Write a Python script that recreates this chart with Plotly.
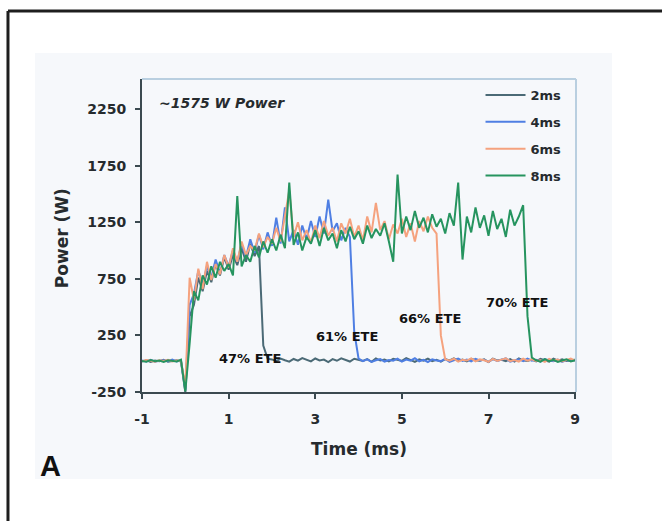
import plotly.graph_objects as go

# Measured forward power traces for four pulse durations, sampled every 0.1 ms
# starting at t = -1.0 ms.
power_2ms = [
    20, 30, 15, 28, 22, 35, 18, 26, 30, 20,
    -250, 420, 520, 760, 640, 820, 720, 880, 780, 940,
    830, 960, 870, 1020, 900, 1060, 950, 1040, 160, 45,
    38, 22, 45, 30, 18, 42, 27, 50, 33, 20,
    46, 29, 37, 15, 41, 26, 48, 31, 19, 44,
    35, 24, 40, 17, 47, 28, 36, 21, 43, 32,
    25, 49, 30, 16, 39, 27, 45, 22, 34, 18,
    41, 29, 47, 24, 36, 20, 43, 31, 26, 38,
    15, 44, 28, 35, 23, 40, 19, 46, 30, 25,
    37, 21, 42, 33, 18, 45, 27, 39, 24, 31,
    36,
]
power_4ms = [
    28, 20, 34, 18, 25, 30, 22, 36, 19, 27,
    -230, 520, 620, 820, 700, 860, 760, 920, 800, 960,
    860, 1000, 900, 1060, 940, 1100, 980, 1140, 1010, 1160,
    1040, 1290, 1060, 1380, 1080, 1180, 1050, 1220, 1100, 1260,
    1120, 1300, 1150, 1450, 1170, 1240, 1090, 1200, 1120, 280,
    45, 22, 38, 16, 30, 41, 19, 33, 26, 44,
    18, 36, 27, 48, 21, 34, 15, 39, 29, 23,
    42, 17, 31, 46, 25, 37, 20, 43, 28, 35,
    16, 40, 24, 33, 47, 19, 30, 38, 22, 45,
    27, 34, 18, 41, 29, 23, 37, 15, 32, 26,
    30,
]
power_6ms = [
    22, 32, 26, 18, 30, 24, 34, 20, 28, 25,
    -200, 760, 560, 840, 660, 900, 740, 880, 790, 960,
    850, 1020, 900, 1080, 960, 1040, 1000, 1150, 1030, 1120,
    1060, 1200, 1080, 1300, 1530, 1120, 1250, 1090, 1180, 1070,
    1220, 1110, 1260, 1130, 1200, 1080, 1240, 1150, 1280, 1120,
    1220, 1090, 1300, 1160, 1420, 1180, 1260, 1100, 1230, 1150,
    1280, 1120, 1240, 1080, 1260, 1170, 1300, 1200, 1150, 250,
    40, 26, 44, 19, 35, 28, 47, 21, 38, 30,
    17, 42, 25, 36, 48, 22, 33, 19, 45, 27,
    39, 24, 31, 16, 43, 29, 37, 20, 34, 46,
    28,
]
power_8ms = [
    25, 18, 32, 22, 28, 15, 30, 24, 20, 35,
    -245, 180, 640, 560, 780, 700, 860, 760, 900, 820,
    880, 780, 1480, 860, 960, 900, 1040, 940, 1080, 980,
    1100, 1000, 1140, 1020, 1600, 1050, 1160, 1000, 1120, 1060,
    1180, 1040, 1200, 1090, 1150, 1020, 1180, 1080, 1210, 1100,
    1170, 1060, 1220, 1110, 1190, 1130, 1240, 1080, 900, 1670,
    1150, 1300, 1180, 1350, 1200, 1290, 1160, 1320, 1210, 1280,
    1150, 1330, 1220, 1600, 920, 1300, 1160, 1380, 1200, 1310,
    1130, 1350, 1190, 1280, 1120, 1360, 1220, 1300, 1400, 420,
    55, 30, 18, 40, 22, 35, 15, 28, 38, 20,
    30,
]

series_names = ["2ms", "4ms", "6ms", "8ms"]
series_values = [power_2ms, power_4ms, power_6ms, power_8ms]
series_colors = ["#4b6a76", "#4f7fe3", "#f5a27e", "#26945f"]

ete_labels = ["47% ETE", "61% ETE", "66% ETE", "70% ETE"]
ete_x = [1.49, 3.73, 5.65, 7.66]
ete_y = [50, 236, 395, 545]

x_ticks = [-1, 1, 3, 5, 7, 9]
x_tick_text = ["-1", "1", "3", "5", "7", "9"]
y_ticks = [-250, 250, 750, 1250, 1750, 2250]
y_tick_text = ["-250", "250", "750", "1250", "1750", "2250"]

FONT = "DejaVu Sans"
INK = "#262b2e"

fig = go.Figure()
for name, vals, color in zip(series_names, series_values, series_colors):
    t = [round(-1.0 + 0.1 * i, 2) for i in range(len(vals))]
    fig.add_trace(go.Scatter(
        x=t, y=vals, mode="lines", name=name, legendgroup=name,
        line=dict(color=color, width=2),
    ))

annotations = [
    dict(text="<b><i>~1575 W Power</i></b>", x=-0.65, y=2303, xref="x", yref="y",
         xanchor="left", yanchor="middle", showarrow=False,
         font=dict(family=FONT, size=14, color=INK)),
    dict(text="<b>Time (ms)</b>", x=0.5, y=-0.182, xref="paper", yref="paper",
         xanchor="center", yanchor="middle", showarrow=False,
         font=dict(family=FONT, size=17, color=INK)),
    dict(text="<b>Power (W)</b>", x=-0.184, y=0.492, xref="paper", yref="paper",
         xanchor="center", yanchor="middle", showarrow=False, textangle=-90,
         font=dict(family=FONT, size=17, color=INK)),
    dict(text="<b>A</b>", x=-0.2097, y=-0.236, xref="paper", yref="paper",
         xanchor="center", yanchor="middle", showarrow=False,
         font=dict(family="Liberation Sans, Arial", size=29, color="#111111")),
]
for label, lx, ly in zip(ete_labels, ete_x, ete_y):
    annotations.append(dict(text="<b>" + label + "</b>", x=lx, y=ly, xref="x", yref="y",
                            xanchor="center", yanchor="middle", showarrow=False,
                            font=dict(family=FONT, size=13, color="#111111")))

shapes = [
    # light panel behind the chart
    dict(type="rect", xref="paper", yref="paper", x0=-0.2465, x1=1.083, y0=-0.278, y1=1.083,
         fillcolor="#f6f8fb", line=dict(width=0), layer="below"),
    # outer frame (top and left edges)
    dict(type="line", xref="paper", yref="paper", x0=-0.3088, x1=1.4, y0=1.2173, y1=1.2173,
         line=dict(color="#1e1e1e", width=3)),
    dict(type="line", xref="paper", yref="paper", x0=-0.3088, x1=-0.3088, y0=1.2173, y1=-0.6,
         line=dict(color="#1e1e1e", width=3)),
    # light blue top/right edges of the plot box
    dict(type="line", xref="paper", yref="paper", x0=0, x1=1, y0=1, y1=1,
         line=dict(color="#b9cfe0", width=2)),
    dict(type="line", xref="paper", yref="paper", x0=1, x1=1, y0=0, y1=1,
         line=dict(color="#b9cfe0", width=2)),
]

fig.update_layout(
    width=662, height=521,
    margin=dict(l=142, r=86, t=79, b=129),
    paper_bgcolor="white", plot_bgcolor="white",
    font=dict(family=FONT, color=INK),
    showlegend=True,
    legend=dict(x=0.78, y=0.997, xanchor="left", yanchor="top",
                bgcolor="rgba(0,0,0,0)", tracegroupgap=7, itemwidth=40,
                font=dict(family=FONT, size=13, color=INK, weight="bold")),
    annotations=annotations,
    shapes=shapes,
)
fig.update_xaxes(
    range=[-1, 9.02], tickvals=x_ticks, ticktext=x_tick_text,
    showgrid=False, zeroline=False,
    showline=True, linecolor="#3b4a50", linewidth=2,
    ticks="outside", ticklen=5, tickcolor="#3b4a50", tickwidth=2,
    ticklabelstandoff=8,
    tickfont=dict(family=FONT, size=14, color=INK, weight="bold"),
)
fig.update_yaxes(
    range=[-250, 2515], tickvals=y_ticks, ticktext=y_tick_text,
    showgrid=False, zeroline=False,
    showline=True, linecolor="#3b4a50", linewidth=2,
    ticks="outside", ticklen=5, tickcolor="#3b4a50", tickwidth=2,
    ticklabelstandoff=6,
    tickfont=dict(family=FONT, size=14, color=INK, weight="bold"),
)

fig.write_html("out.html")
